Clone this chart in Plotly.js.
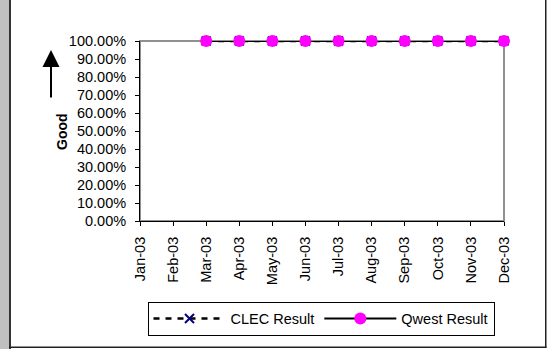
<!DOCTYPE html>
<html>
<head>
<meta charset="utf-8">
<script src="https://cdn.plot.ly/plotly-3.0.1.min.js"></script>
<style>html,body{margin:0;padding:0;background:#fff;}#chart{width:548px;height:349px;}</style>
</head>
<body>
<div id="chart"></div>
<script>
var months = ["Jan-03","Feb-03","Mar-03","Apr-03","May-03","Jun-03","Jul-03","Aug-03","Sep-03","Oct-03","Nov-03","Dec-03"];
var clecResult = [null,null,1,1,1,1,1,1,1,1,1,1];
var qwestResult = [null,null,1,1,1,1,1,1,1,1,1,1];
var yTickVals = [0,0.1,0.2,0.3,0.4,0.5,0.6,0.7,0.8,0.9,1.0];

var W = 548, H = 349, L = 140, R = 44, T = 41, B = 128;
var pw = W - L - R, ph = H - T - B;
function fx(px){ return (px - L) / pw; }
function fy(py){ return (H - B - py) / ph; }

var font = "Liberation Sans, Arial, sans-serif";
var fs = 14.5;

var traces = [
  {x: months, y: clecResult, name: "CLEC Result", type: "scatter", mode: "lines+markers", cliponaxis: false,
   line: {color: "#000000", width: 2.5, dash: "6px,6px"},
   marker: {symbol: "x-thin-open", size: 9, color: "#000080", line: {color: "#000080", width: 2}}},
  {x: months, y: qwestResult, name: "Qwest Result", type: "scatter", mode: "lines+markers", cliponaxis: false,
   line: {color: "#000000", width: 2},
   marker: {symbol: "circle", size: 12, color: "#ff00ff", line: {width: 0}}}
];

var layout = {
  width: W, height: H,
  margin: {l: L, r: R, t: T, b: B, pad: 0},
  paper_bgcolor: "#ffffff", plot_bgcolor: "#ffffff",
  font: {family: font, size: fs, color: "#000000"},
  showlegend: true,
  xaxis: {type: "category", range: [0, 11], tickangle: -90, ticks: "outside", ticklen: 4,
          tickcolor: "#000", showline: true, linecolor: "#000", linewidth: 1,
          showgrid: false, zeroline: false, fixedrange: true, ticklabelstandoff: 5,
          tickfont: {family: font, size: fs}},
  yaxis: {range: [0, 1], tickvals: yTickVals, tickformat: ".2%", ticks: "outside", ticklen: 4,
          tickcolor: "#000", showline: true, linecolor: "#000", linewidth: 1,
          showgrid: false, zeroline: false, fixedrange: true, ticklabelstandoff: 6,
          tickfont: {family: font, size: fs}},
  legend: {orientation: "h", x: fx(321), y: fy(318.5), xanchor: "center", yanchor: "middle",
           bordercolor: "#000", borderwidth: 1, bgcolor: "#fff",
           font: {family: font, size: fs}, itemwidth: 72, tracegroupgap: 0},
  shapes: [
    {type: "rect", xref: "paper", yref: "paper", x0: 0, x1: 1, y0: 0, y1: 1,
     line: {color: "#909090", width: 2}, layer: "below"},
    {type: "rect", xref: "paper", yref: "paper", x0: fx(0), x1: fx(9), y0: fy(0), y1: fy(349),
     fillcolor: "#c0c0c0", line: {width: 0}},
    {type: "rect", xref: "paper", yref: "paper", x0: fx(9), x1: fx(11), y0: fy(0), y1: fy(349),
     fillcolor: "#333333", line: {width: 0}},
    {type: "rect", xref: "paper", yref: "paper", x0: fx(545), x1: fx(546.5), y0: fy(0), y1: fy(348),
     fillcolor: "#222222", line: {width: 0}},
    {type: "rect", xref: "paper", yref: "paper", x0: fx(9), x1: fx(546.5), y0: fy(346.5), y1: fy(348),
     fillcolor: "#222222", line: {width: 0}}
  ],
  annotations: [
    {xref: "paper", yref: "paper", x: fx(51), y: fy(50), ax: 0, ay: 49, axref: "pixel", ayref: "pixel",
     showarrow: true, arrowhead: 2, arrowsize: 1.7, arrowwidth: 2, arrowcolor: "#000", text: ""},
    {xref: "paper", yref: "paper", x: fx(52), y: fy(132), text: "<b>Good</b>", textangle: -90,
     showarrow: false, font: {family: font, size: 14, color: "#000"}}
  ]
};

Plotly.newPlot("chart", traces, layout, {displayModeBar: false, staticPlot: true});
</script>
</body>
</html>
